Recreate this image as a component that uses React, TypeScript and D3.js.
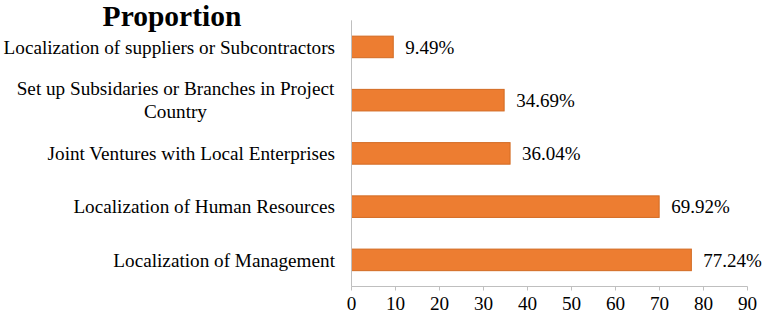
import React from "react";
import * as d3 from "d3";

const categories = [
  ["Localization of suppliers or Subcontractors"],
  ["Set up Subsidaries or Branches in Project", "Country"],
  ["Joint Ventures with Local Enterprises"],
  ["Localization of Human Resources"],
  ["Localization of Management"],
];
const values = [9.49, 34.69, 36.04, 69.92, 77.24];
const valueLabels = ["9.49%", "34.69%", "36.04%", "69.92%", "77.24%"];
const ticks = [0, 10, 20, 30, 40, 50, 60, 70, 80, 90];
const title = "Proportion";

const W = 766, H = 318;
const x0 = 351.5, x1 = 747.5;
const yTop = 20.3, yBot = 286.5;
const font = "'Liberation Serif', 'Times New Roman', serif";
const fs = 19.2;

export default function App() {
  const x = d3.scaleLinear().domain([0, 90]).range([x0, x1]);
  const idx = categories.map((_, i) => String(i));
  const y = d3.scaleBand().domain(idx).range([yTop, yBot]).paddingInner(0.595).paddingOuter(0.2975);
  return (
    <svg width={W} height={H} style={{ position: "absolute", left: 0, top: 0 }}>
      <rect width={W} height={H} fill="#fff" />
      <text x={172} y={26} textAnchor="middle" fontFamily={font} fontWeight="bold" fontSize={29.5}>{title}</text>
      {values.map((v, i) => {
        const yy = y(String(i))!;
        return (
          <g key={i}>
            <rect x={x(0)} y={yy} width={x(v) - x(0)} height={y.bandwidth()} fill="#ED7D31" stroke="#D26A22" strokeWidth={1} />
            <text x={x(v) + 12} y={yy + y.bandwidth() / 2} dy="0.35em" fontFamily={font} fontSize={19}>{valueLabels[i]}</text>
          </g>
        );
      })}
      {categories.map((lines, i) => {
        const cy = y(String(i))! + y.bandwidth() / 2;
        if (lines.length > 1) {
          const lh = 23;
          return (
            <text key={i} textAnchor="middle" fontFamily={font} fontSize={fs}>
              {lines.map((l, j) => (
                <tspan key={j} x={175.5} y={cy + (j - (lines.length - 1) / 2) * lh} dy="0.35em">{l}</tspan>
              ))}
            </text>
          );
        }
        return (
          <text key={i} x={335} y={cy} dy="0.35em" textAnchor="end" fontFamily={font} fontSize={fs}>{lines[0]}</text>
        );
      })}
      <line x1={x0} x2={x0} y1={yTop} y2={yBot} stroke="#BFBFBF" strokeWidth={1} />
      <line x1={x0} x2={x1} y1={yBot} y2={yBot} stroke="#BFBFBF" strokeWidth={1} />
      {ticks.map((t) => (
        <g key={t}>
          <line x1={x(t)} x2={x(t)} y1={yBot} y2={yBot + 4} stroke="#BFBFBF" strokeWidth={1} />
          <text x={x(t)} y={310} textAnchor="middle" fontFamily={font} fontSize={fs}>{t}</text>
        </g>
      ))}
    </svg>
  );
}
